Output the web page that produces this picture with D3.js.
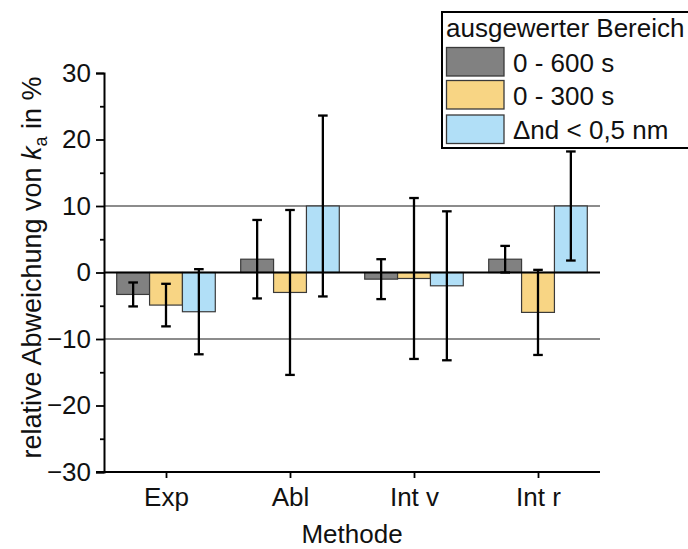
<!DOCTYPE html>
<html>
<head>
<meta charset="utf-8">
<script src="https://cdn.jsdelivr.net/npm/d3@7/dist/d3.min.js"></script>
<style>
  html, body { margin: 0; padding: 0; background: #fff; }
  svg { display: block; font-family: "Liberation Sans", Arial, sans-serif; }
</style>
</head>
<body>
<div id="chart"></div>
<script>
// Methods on the x axis
const categories = ["Exp", "Abl", "Int v", "Int r"];

// Evaluated ranges (legend entries)
const seriesNames = ["0 - 600 s", "0 - 300 s", "\u0394nd < 0,5 nm"];

// Relative deviation of k_a in % and its error, per evaluated range
const values600 = [-3.3, 2.0, -1.0, 2.0];
const errors600 = [1.8, 5.9, 3.0, 2.0];
const values300 = [-4.9, -3.0, -0.9, -6.0];
const errors300 = [3.2, 12.4, 12.1, 6.4];
const valuesNd = [-5.9, 10.0, -2.0, 10.0];
const errorsNd = [6.4, 13.6, 11.2, 8.2];

// Axis ticks
const yMajorTicks = [-30, -20, -10, 0, 10, 20, 30];
const yMinorTicks = [-25, -15, -5, 5, 15, 25];
const yGridLines = [-10, 10];

const colors = ["#818181", "#f8d584", "#b1dff7"];

const width = 688, height = 549;
const svg = d3.select("#chart").append("svg")
  .attr("width", width).attr("height", height);

const x = d3.scaleLinear().domain([0.5, 4.5]).range([104, 600]);
const y = d3.scaleLinear().domain([-30, 30]).range([472, 73]);
const barW = 0.265;

const series = [
  { name: seriesNames[0], values: values600, errors: errors600, color: colors[0] },
  { name: seriesNames[1], values: values300, errors: errors300, color: colors[1] },
  { name: seriesNames[2], values: valuesNd, errors: errorsNd, color: colors[2] }
];

// Horizontal reference lines at ±10
svg.append("g").selectAll("line").data(yGridLines).join("line")
  .attr("x1", x(0.5)).attr("x2", x(4.5))
  .attr("y1", d => y(d)).attr("y2", d => y(d))
  .attr("stroke", "#8c8c8c").attr("stroke-width", 2);

// Bars
series.forEach((s, si) => {
  const off = (si - 1) * barW;
  svg.append("g").selectAll("rect").data(s.values).join("rect")
    .attr("x", (d, i) => x(i + 1 + off - barW / 2))
    .attr("width", x(barW) - x(0))
    .attr("y", d => y(Math.max(0, d)))
    .attr("height", d => Math.abs(y(d) - y(0)))
    .attr("fill", s.color)
    .attr("stroke", "#3a3a3a")
    .attr("stroke-width", 1.2);
});

// Zero line
svg.append("line")
  .attr("x1", x(0.5)).attr("x2", x(4.5))
  .attr("y1", y(0)).attr("y2", y(0))
  .attr("stroke", "#000").attr("stroke-width", 2);

// Error bars
series.forEach((s, si) => {
  const off = (si - 1) * barW;
  const g = svg.append("g").attr("stroke", "#000").attr("stroke-width", 2.3);
  s.values.forEach((v, i) => {
    const cx = x(i + 1 + off);
    const lo = y(v - s.errors[i]), hi = y(v + s.errors[i]);
    g.append("line").attr("x1", cx).attr("x2", cx).attr("y1", lo).attr("y2", hi);
    g.append("line").attr("x1", cx - 4.8).attr("x2", cx + 4.8).attr("y1", lo).attr("y2", lo);
    g.append("line").attr("x1", cx - 4.8).attr("x2", cx + 4.8).attr("y1", hi).attr("y2", hi);
  });
});

// Y axis
const yAxis = svg.append("g").attr("transform", `translate(${x(0.5)},0)`)
  .call(d3.axisLeft(y).tickValues(yMajorTicks).tickSize(8).tickPadding(5));
yAxis.select(".domain").attr("stroke-width", 2);
yAxis.selectAll(".tick line").attr("stroke-width", 1.8);
yAxis.selectAll(".tick text").attr("font-size", 26).attr("fill", "#111")
  .attr("font-family", "Liberation Sans, Arial, sans-serif");
svg.append("g").attr("transform", `translate(${x(0.5)},0)`)
  .call(d3.axisLeft(y).tickValues(yMinorTicks).tickSize(4).tickFormat(""))
  .call(g => g.select(".domain").remove())
  .selectAll(".tick line").attr("stroke-width", 1.8);

// X axis
const xAxis = svg.append("g").attr("transform", `translate(0,${y(-30)})`)
  .call(d3.axisBottom(x).tickValues([1, 2, 3, 4]).tickSize(6).tickPadding(10)
    .tickFormat(d => categories[d - 1]));
xAxis.select(".domain").attr("stroke-width", 2).attr("d", `M${x(0.5) - 8},0H${x(4.5)}`);
xAxis.selectAll(".tick line").attr("stroke-width", 1.8);
xAxis.selectAll(".tick text").attr("font-size", 26).attr("fill", "#111")
  .attr("font-family", "Liberation Sans, Arial, sans-serif");

// Axis titles
svg.append("text")
  .attr("x", (x(0.5) + x(4.5)) / 2).attr("y", 543)
  .attr("text-anchor", "middle").attr("font-size", 26).attr("fill", "#111")
  .text("Methode");

const yt = svg.append("text")
  .attr("transform", `translate(41,${(y(30) + y(-30)) / 2 - 5}) rotate(-90)`)
  .attr("text-anchor", "middle").attr("font-size", 27).attr("fill", "#111");
yt.append("tspan").text("relative Abweichung von ");
yt.append("tspan").attr("font-style", "italic").text("k");
yt.append("tspan").attr("font-size", 18).attr("dy", 6).text("a");
yt.append("tspan").attr("dy", -6).text(" in %");

// Legend
const lg = svg.append("g");
lg.append("rect").attr("x", 442).attr("y", 12).attr("width", 260).attr("height", 136)
  .attr("fill", "#fff").attr("stroke", "#000").attr("stroke-width", 2);
lg.append("text").attr("x", 446).attr("y", 37).attr("font-size", 26).attr("fill", "#111")
  .text("ausgewerter Bereich");
const rowTops = [47.5, 80.5, 115];
series.forEach((s, i) => {
  lg.append("rect").attr("x", 446.5).attr("y", rowTops[i])
    .attr("width", 57.5).attr("height", 28.5)
    .attr("fill", s.color).attr("stroke", "#3a3a3a").attr("stroke-width", 1.3);
  lg.append("text").attr("x", 513).attr("y", rowTops[i] + 24)
    .attr("font-size", 26).attr("fill", "#111").text(s.name);
});
</script>
</body>
</html>
